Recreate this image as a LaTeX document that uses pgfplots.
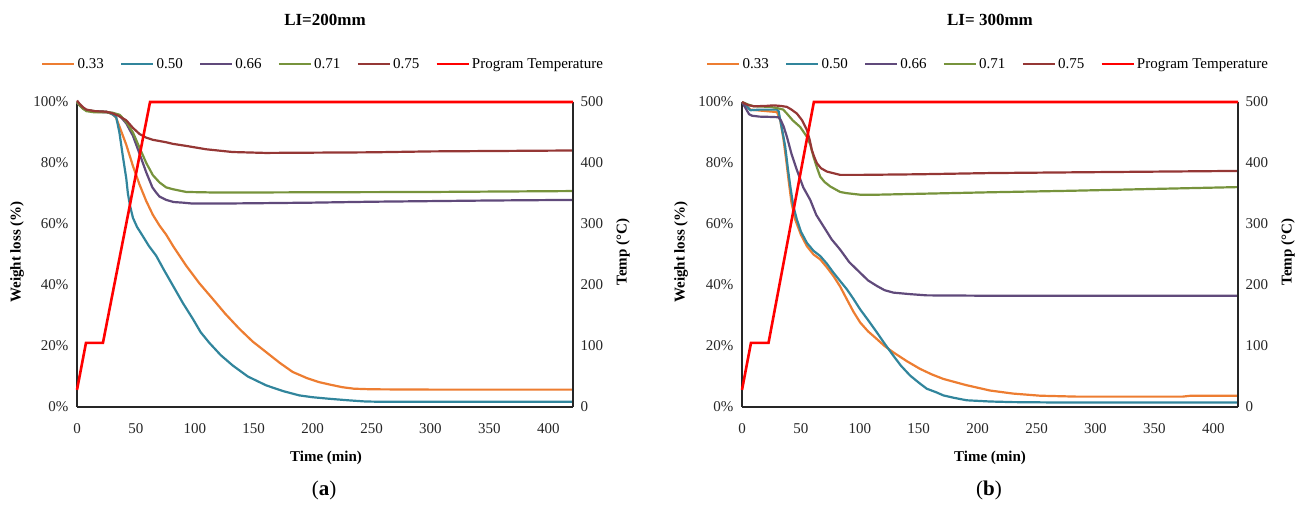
\documentclass[border=0pt]{standalone}
\usepackage{fontspec}
\setmainfont{Liberation Serif}
\usepackage{pgfplots}
\pgfplotsset{compat=1.18}
\definecolor{cOr}{RGB}{237,125,49}
\definecolor{cTe}{RGB}{49,133,156}
\definecolor{cPu}{RGB}{96,74,123}
\definecolor{cGr}{RGB}{119,147,60}
\definecolor{cBr}{RGB}{149,55,53}
\definecolor{cRd}{RGB}{255,0,0}
\pgfplotsset{
  base/.style={scale only axis, width=496pt, height=305pt, xmin=0, xmax=421,
    clip=false, major tick length=0pt,
    axis line style={line width=1.4pt, black!85},
    /pgf/number format/assume math mode=true,
    tick label style={font=\fontsize{15}{17}\selectfont, text=black!85}},
  wl/.style={base, axis x line*=bottom, axis y line*=left, ymin=0, ymax=100,
    xtick={0,50,...,400}, ytick={0,20,...,100},
    yticklabel={\pgfmathprintnumber{\tick}\%},
    xticklabel style={yshift=-13pt}, yticklabel style={xshift=-5pt}},
  tp/.style={base, axis x line=none, axis y line*=right, ymin=0, ymax=500,
    ytick={0,100,...,500}, yticklabel style={xshift=4pt},
    legend style={at={(0.5,1)}, anchor=south, xshift=-2pt, yshift=30pt, draw=none,
      font=\fontsize{15}{17}\selectfont, inner sep=0pt,
      /tikz/every even column/.append style={column sep=14pt}},
    legend columns=6,
    legend image code/.code={\draw[#1] (0pt,0pt) -- (32pt,0pt);}},
  ln/.style={line width=2.2pt, line join=round},
}
\begin{document}
\begin{tikzpicture}
\useasboundingbox (0,0) rectangle (1304pt,505pt);
% ---------------- (a) LI=200mm ----------------
\begin{axis}[wl, at={(77pt,98pt)}, anchor=south west]
\addplot[ln, cOr] coordinates {(0,100)(2,99)(5,98)(8,97.3)(15,97)(25,96.8)(30,96)(33,95)(36,92)(41.8,86)(47.5,79)(53,73)(58.8,67.5)(64.4,63)(70,59.5)(75.7,56.5)(82,52.5)(92.7,46.3)(104,40.5)(115.3,35.4)(126,30.5)(137.9,25.6)(149,21.5)(160.5,18)(172,14.5)(183,11.5)(195,9.5)(205,8.2)(214,7.4)(225,6.5)(235,6.0)(250,5.8)(300,5.7)(350,5.7)(421,5.7)};
\addplot[ln, cTe] coordinates {(0,100)(2,99)(5,98)(8,97.3)(15,97)(25,96.8)(30,96)(33.3,95)(36,90)(39,82)(41.8,75)(43.2,70)(45,66)(47.5,62)(51,59)(55.9,56)(61,52.8)(67.2,49.6)(74,44.8)(81.4,39.8)(90,34)(98.3,28.9)(105,24.5)(112.4,21)(122,17)(132.2,13.6)(145,10)(160.5,7.1)(175,5.2)(188.7,3.8)(200,3.2)(214,2.7)(230,2.2)(245,1.8)(260,1.7)(421,1.7)};
\addplot[ln, cPu] coordinates {(0,100)(2,99)(5,98)(8,97.2)(15,96.8)(25,96.6)(30,96.4)(36.2,95.5)(41.8,93)(47.5,88.9)(53.1,83)(58.8,76.9)(64,72)(67.2,70.3)(70,69)(75.7,67.9)(82,67.2)(89.8,67)(98,66.7)(120,66.7)(150,66.8)(200,67)(250,67.3)(300,67.5)(350,67.7)(421,67.9)};
\addplot[ln, cGr] coordinates {(0,100)(2,99)(5,97.8)(8,97)(15,96.6)(25,96.6)(30,96.5)(36.2,95.8)(41.8,93.5)(47.5,90)(53.1,85)(58.8,80)(64.4,76)(70.1,73.6)(75.7,72)(81.4,71.4)(92.7,70.5)(120,70.3)(200,70.4)(300,70.5)(421,70.8)};
\addplot[ln, cBr] coordinates {(0,100.5)(2,99.5)(5,98.3)(8,97.5)(15,97)(25,96.8)(30,96.3)(35,95.5)(41.8,94)(47.5,91.5)(53.1,89.5)(58.8,88.3)(64.4,87.6)(75.7,86.8)(81,86.3)(92.7,85.6)(109.6,84.5)(132,83.6)(160,83.3)(250,83.5)(300,83.8)(421,84.1)};
\end{axis}
\begin{axis}[tp, at={(77pt,98pt)}, anchor=south west]
\addlegendimage{line width=2.6pt, cOr}\addlegendentry{0.33}
\addlegendimage{line width=2.6pt, cTe}\addlegendentry{0.50}
\addlegendimage{line width=2.6pt, cPu}\addlegendentry{0.66}
\addlegendimage{line width=2.6pt, cGr}\addlegendentry{0.71}
\addlegendimage{line width=2.6pt, cBr}\addlegendentry{0.75}
\addplot[line width=2.6pt, cRd] coordinates {(0,28)(7.6,105)(22,105)(62,500)(421,500)};
\addlegendentry{Program Temperature}
\end{axis}
% ---------------- (b) LI=300mm ----------------
\begin{axis}[wl, at={(742pt,98pt)}, anchor=south west]
\addplot[ln, cOr] coordinates {(0,100)(3,99)(7.1,97.5)(15,97.2)(29.7,96.7)(32.5,94)(35.3,87.5)(37.5,81)(39.5,74.5)(42,67)(45.2,61.4)(50,56.5)(55.1,52.7)(60.7,50)(66.4,48.4)(72,45.8)(77.7,42.9)(83.3,39.5)(89,35.3)(94.5,31.3)(100.3,27.7)(107,24.8)(114.4,22.3)(121,20)(128.5,17.9)(140,15)(151.1,12.5)(161,10.7)(170.9,9.2)(190,7.2)(210.5,5.4)(230,4.4)(253,3.7)(284,3.4)(330,3.4)(374,3.4)(381,3.7)(421,3.7)};
\addplot[ln, cTe] coordinates {(0,100)(3,99)(7.1,97.3)(15,97.5)(29.7,97.5)(31.1,97)(32.5,94)(35,89)(36.7,85.3)(39,78)(41,72.3)(43.5,66)(46.6,61.4)(50,57.5)(55.1,53.8)(60.7,51.2)(66.4,49.5)(72,47)(77.7,44)(83.3,41.3)(89,38.6)(94.5,35.5)(100.3,32)(107,28.5)(114.4,24.5)(121,20.8)(128.5,16.8)(135,13.5)(142.7,10.3)(150,8)(156.8,6)(165,4.8)(170.9,3.8)(180,3)(190.7,2.2)(210.5,1.8)(230,1.6)(260,1.5)(421,1.5)};
\addplot[ln, cPu] coordinates {(0,100)(3,98)(6,96)(8.5,95.5)(15,95.2)(25,95.1)(31,95)(33,94)(35.3,92)(38.1,88.6)(42,83)(46.6,77.7)(52,72)(57.9,67.9)(63,63)(69.2,59.2)(76,55)(83.3,51.6)(91,47.5)(100.3,44)(107,41.5)(114.4,39.7)(121,38.3)(128.5,37.5)(142.7,37)(156.8,36.6)(200,36.5)(421,36.5)};
\addplot[ln, cGr] coordinates {(0,100)(5,99.2)(9.9,98.6)(24,98.4)(30,98)(35,97.5)(38.1,96.2)(43,94)(49.4,91.8)(55.1,88.6)(58,86)(60.7,82)(63.6,78.5)(66.4,75.5)(70,73.8)(74.9,72.3)(83.3,70.5)(89,70.1)(100.3,69.6)(114.4,69.6)(150,69.9)(210.8,70.4)(280,70.9)(350,71.5)(421,72.1)};
\addplot[ln, cBr] coordinates {(0,100)(5,99)(9.9,98.6)(20,98.7)(26.8,98.9)(33,98.7)(38.1,98.4)(42,97.5)(46.6,96.2)(51,94)(55.1,90.8)(57.5,87.5)(59.3,84.2)(61.5,81.8)(63.6,79.9)(67,78.3)(72,77.2)(83.3,76.1)(100.3,76.1)(150,76.3)(210.8,76.7)(300,77)(421,77.4)};
\end{axis}
\begin{axis}[tp, at={(742pt,98pt)}, anchor=south west]
\addlegendimage{line width=2.6pt, cOr}\addlegendentry{0.33}
\addlegendimage{line width=2.6pt, cTe}\addlegendentry{0.50}
\addlegendimage{line width=2.6pt, cPu}\addlegendentry{0.66}
\addlegendimage{line width=2.6pt, cGr}\addlegendentry{0.71}
\addlegendimage{line width=2.6pt, cBr}\addlegendentry{0.75}
\addplot[line width=2.6pt, cRd] coordinates {(0,28)(7.6,105)(22.5,105)(61,500)(421,500)};
\addlegendentry{Program Temperature}
\end{axis}
% ---------------- texts ----------------
\node[font=\fontsize{17}{19}\selectfont\bfseries] at (325pt,485pt) {LI=200mm};
\node[font=\fontsize{17}{19}\selectfont\bfseries] at (990pt,485pt) {LI= 300mm};
\node[font=\fontsize{15}{17}\selectfont\bfseries, rotate=90] at (17pt,253pt) {Weight loss (\%)};
\node[font=\fontsize{15}{17}\selectfont\bfseries, rotate=90] at (681pt,253pt) {Weight loss (\%)};
\node[font=\fontsize{15}{17}\selectfont\bfseries, rotate=90] at (623pt,253pt) {Temp (°C)};
\node[font=\fontsize{15}{17}\selectfont\bfseries, rotate=90] at (1288pt,253pt) {Temp (°C)};
\node[font=\fontsize{15}{17}\selectfont\bfseries] at (326pt,47pt) {Time (min)};
\node[font=\fontsize{15}{17}\selectfont\bfseries] at (990pt,47pt) {Time (min)};
\node[font=\fontsize{21}{23}\selectfont] at (324pt,15pt) {(\textbf{a})};
\node[font=\fontsize{21}{23}\selectfont] at (989pt,15pt) {(\textbf{b})};
\end{tikzpicture}
\end{document}
